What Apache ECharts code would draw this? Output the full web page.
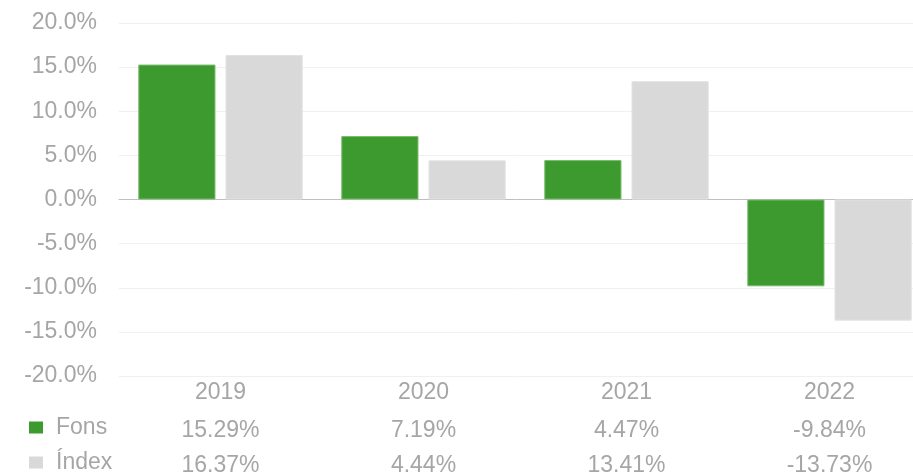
<!DOCTYPE html>
<html>
<head>
<meta charset="utf-8">
<script src="https://cdn.jsdelivr.net/npm/echarts@6/dist/echarts.min.js"></script>
<style>
  html, body { margin: 0; padding: 0; background: #fff; }
  #main { width: 913px; height: 473px; }
</style>
</head>
<body>
<div id="main"></div>
<script>
// data
var years = ['2019', '2020', '2021', '2022'];
var fons = [15.29, 7.19, 4.47, -9.84];
var index = [16.37, 4.44, 13.41, -13.73];
var yTicks = { min: -20, max: 20, step: 5 };

var txt = '#a6a6a6';
var fnt = 'Liberation Sans, Arial, sans-serif';

function pct(v) { return v.toFixed(2) + '%'; }

// label-only axes carry the table rows under each year
function rowAxis(labels, off) {
  return {
    type: 'category',
    position: 'bottom',
    offset: off,
    data: labels,
    axisLine: { show: false, onZero: false },
    axisTick: { show: false },
    splitLine: { show: false },
    axisLabel: { color: txt, fontSize: 23, fontFamily: fnt, margin: 5 }
  };
}

// one legend per table row so they never wrap
function rowLegend(name, top) {
  return {
    data: [name],
    left: 29,
    top: top,
    padding: 0,
    itemWidth: 14,
    itemHeight: 12,
    icon: 'rect',
    itemStyle: { borderWidth: 0 },
    textStyle: { color: txt, fontSize: 23, fontFamily: fnt, padding: [0, 0, 0, 8] }
  };
}

var chart = echarts.init(document.getElementById('main'));
chart.setOption({
  animation: false,
  grid: { left: 119, right: -18, top: 23, bottom: 97, containLabel: false, outerBoundsMode: 'none' },
  legend: [rowLegend('Fons', 416), rowLegend('Índex', 451)],
  xAxis: [
    {
      type: 'category',
      data: years,
      axisLine: { onZero: true, lineStyle: { color: '#bfbfbf', width: 1 } },
      axisTick: { show: false },
      axisLabel: { show: false }
    },
    rowAxis(years, 0),
    rowAxis(fons.map(pct), 38),
    rowAxis(index.map(pct), 73)
  ],
  yAxis: {
    type: 'value',
    min: yTicks.min,
    max: yTicks.max,
    interval: yTicks.step,
    axisLine: { show: false },
    axisTick: { show: false },
    splitLine: { lineStyle: { color: '#f0f0f0', width: 1 } },
    axisLabel: {
      color: txt, fontSize: 23, fontFamily: fnt, margin: 22,
      formatter: function (v) { return v.toFixed(1) + '%'; }
    }
  },
  series: [
    {
      name: 'Fons',
      type: 'bar',
      data: fons,
      barGap: '13%',
      barCategoryGap: '19%',
      itemStyle: { color: '#3d9a2f', borderColor: '#79bd6d', borderWidth: 1 }
    },
    {
      name: 'Índex',
      type: 'bar',
      data: index,
      itemStyle: { color: '#d9d9d9', borderColor: '#e3e3e3', borderWidth: 1 }
    }
  ]
});
</script>
</body>
</html>
